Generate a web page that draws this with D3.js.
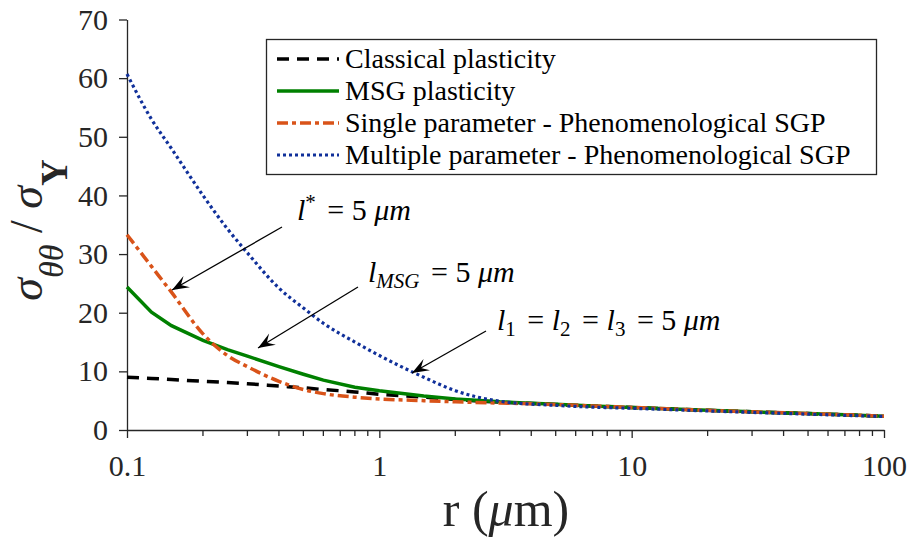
<!DOCTYPE html>
<html>
<head>
<meta charset="utf-8">
<script src="https://cdn.jsdelivr.net/npm/d3@7"></script>
<style>
  body { margin: 0; background: #fff; }
  svg { display: block; }
</style>
</head>
<body>
<div id="chart"></div>
<script>
//========================
//   Data
//========================
var rValues = [0.1, 0.125, 0.15, 0.2, 0.25, 0.3, 0.4, 0.5, 0.6, 0.8, 1, 1.5, 2, 3, 5, 7, 10, 20, 30, 50, 70, 100];

var classical = [9.0, 8.8, 8.6, 8.3, 8.1, 7.9, 7.5, 7.2, 6.9, 6.5, 6.1, 5.6, 5.2, 4.75, 4.35, 4.1, 3.85, 3.35, 3.1, 2.8, 2.6, 2.35];
var msg       = [24.4, 20.1, 17.8, 15.3, 13.7, 12.6, 10.8, 9.5, 8.5, 7.3, 6.7, 5.8, 5.3, 4.8, 4.4, 4.1, 3.85, 3.35, 3.1, 2.8, 2.6, 2.35];
var single    = [33.3, 27.9, 23.5, 16.4, 12.7, 10.8, 8.3, 6.9, 6.2, 5.6, 5.3, 5.0, 4.8, 4.6, 4.35, 4.1, 3.85, 3.35, 3.1, 2.8, 2.6, 2.35];
var multiple  = [60.7, 53.0, 48.0, 40.0, 34.3, 30.2, 24.2, 20.8, 18.2, 15.0, 12.7, 9.0, 6.7, 4.9, 4.2, 3.9, 3.7, 3.25, 3.0, 2.7, 2.5, 2.3];

var seriesNames = ["Classical plasticity", "MSG plasticity", "Single parameter - Phenomenological SGP", "Multiple parameter - Phenomenological SGP"];
var xTickValues = [0.1, 1, 10, 100];
var yTickValues = [0, 10, 20, 30, 40, 50, 60, 70];

//========================
//   Canvas and scales
//========================
var width = 910, height = 541;
var axisColor = "#262626";
var serif = "Liberation Serif";

var svg = d3.select("#chart").append("svg")
  .attr("width", width)
  .attr("height", height)
  .attr("font-family", serif);

var x = d3.scaleLog().domain([0.1, 100]).range([127, 884]);
var y = d3.scaleLinear().domain([0, 70]).range([430, 19.5]);

//Minor ticks for the log axis
var minorTicks = [];
[0.1, 1, 10].forEach(function(d) {
  for (var k = 2; k <= 9; k++) minorTicks.push(d * k);
});

//========================
//   Axes
//========================
var xAxis = svg.append("g")
  .attr("transform", "translate(0," + y(0) + ")")
  .call(d3.axisBottom(x).tickValues(xTickValues).tickFormat(d3.format("~g"))
    .tickSize(8).tickSizeOuter(0).tickPadding(17));

xAxis.selectAll(".minor").data(minorTicks).enter().append("line")
  .attr("class", "minor")
  .attr("x1", function(d) { return x(d); })
  .attr("x2", function(d) { return x(d); })
  .attr("y1", 0).attr("y2", 6)
  .attr("stroke", axisColor).attr("stroke-width", 1.3);

var yAxis = svg.append("g")
  .attr("transform", "translate(" + x(0.1) + ",0)")
  .call(d3.axisLeft(y).tickValues(yTickValues).tickSize(8).tickSizeOuter(0).tickPadding(11));

[xAxis, yAxis].forEach(function(g) {
  g.attr("font-family", serif).attr("font-size", 30);
  g.select(".domain").attr("stroke", axisColor).attr("stroke-width", 1.3);
  g.selectAll(".tick line").attr("stroke", axisColor).attr("stroke-width", 1.3);
  g.selectAll(".tick text").attr("fill", axisColor);
});

//Axis labels
var xLabel = svg.append("text")
  .attr("x", 506).attr("y", 526)
  .attr("text-anchor", "middle")
  .attr("fill", axisColor)
  .attr("font-size", 50);
xLabel.append("tspan").text("r (");
xLabel.append("tspan").attr("font-style", "italic").text("μ");
xLabel.append("tspan").text("m)");

var yLabel = svg.append("text")
  .attr("transform", "translate(42,230) rotate(-90)")
  .attr("text-anchor", "middle")
  .attr("fill", axisColor)
  .attr("font-size", 46);
yLabel.append("tspan").attr("font-style", "italic").text("σ");
yLabel.append("tspan").attr("dy", 21).attr("font-size", 34).attr("font-style", "italic").text("θθ");
yLabel.append("tspan").attr("dy", -21).text(" / ");
yLabel.append("tspan").attr("font-style", "italic").text("σ");
yLabel.append("tspan").attr("dy", 25).attr("font-size", 37).attr("font-weight", "bold").text("Y");

//========================
//   Lines
//========================
var series = [
  {name: seriesNames[0], values: classical, color: "#000000", dash: "12,8", width: 3.5, curve: d3.curveMonotoneX},
  {name: seriesNames[1], values: msg, color: "#008000", dash: null, width: 3.5, curve: d3.curveLinear},
  {name: seriesNames[2], values: single, color: "#D95319", dash: "11,4,4,4", width: 3.5, curve: d3.curveMonotoneX},
  {name: seriesNames[3], values: multiple, color: "#10309A", dash: "3,3", width: 3.2, curve: d3.curveMonotoneX}
];

series.forEach(function(s) {
  var line = d3.line()
    .curve(s.curve)
    .x(function(d) { return x(d[0]); })
    .y(function(d) { return y(d[1]); });
  svg.append("path")
    .datum(rValues.map(function(r, i) { return [r, s.values[i]]; }))
    .attr("d", line)
    .attr("fill", "none")
    .attr("stroke", s.color)
    .attr("stroke-width", s.width)
    .attr("stroke-dasharray", s.dash);
});

//========================
//   Legend
//========================
var legend = svg.append("g");
legend.append("rect")
  .attr("x", 266.5).attr("y", 39.5)
  .attr("width", 610).attr("height", 135)
  .attr("fill", "#fff").attr("stroke", axisColor).attr("stroke-width", 1.3);

series.forEach(function(s, i) {
  var ly = 59 + i * 32;
  legend.append("line")
    .attr("x1", 277).attr("x2", 339)
    .attr("y1", ly).attr("y2", ly)
    .attr("stroke", s.color).attr("stroke-width", s.width)
    .attr("stroke-dasharray", s.dash);
  legend.append("text")
    .attr("x", 345).attr("y", ly + 9)
    .attr("font-size", 28)
    .attr("fill", "#000")
    .text(s.name);
});

//========================
//   Annotations
//========================
function arrow(x0, y0, x1, y1) {
  svg.append("line")
    .attr("x1", x0).attr("y1", y0).attr("x2", x1).attr("y2", y1)
    .attr("stroke", "#000").attr("stroke-width", 1.3);
  var dx = x0 - x1, dy = y0 - y1, len = Math.sqrt(dx * dx + dy * dy);
  var ux = dx / len, uy = dy / len, nx = -uy, ny = ux;
  var L = 17, W = 6.5;
  var pts = [
    [x1, y1],
    [x1 + ux * L + nx * W, y1 + uy * L + ny * W],
    [x1 + ux * L * 0.6, y1 + uy * L * 0.6],
    [x1 + ux * L - nx * W, y1 + uy * L - ny * W]
  ];
  svg.append("path")
    .attr("d", "M" + pts.join("L") + "Z")
    .attr("fill", "#000");
}

arrow(282, 227, 172, 290);
arrow(358, 287, 258, 348);
arrow(486, 331, 412, 373);

function mathText(xp, yp) {
  return svg.append("text").attr("x", xp).attr("y", yp)
    .attr("font-size", 30).attr("fill", "#000");
}

//spaced "=" like TeX math
function equals(t, dy) {
  t.append("tspan").attr("dx", 4).attr("dy", dy || 0).text(" = ");
  t.append("tspan").attr("dx", 3).text("");
}

//l* = 5 um
var t1 = mathText(297, 220);
t1.append("tspan").attr("font-style", "italic").text("l");
t1.append("tspan").attr("dy", -11).attr("font-size", 21).text("*");
equals(t1, 11);
t1.append("tspan").text("5 ");
t1.append("tspan").attr("font-style", "italic").text("μm");

//l_MSG = 5 um
var t2 = mathText(368, 282);
t2.append("tspan").attr("font-style", "italic").text("l");
t2.append("tspan").attr("dy", 6).attr("font-size", 21).attr("font-style", "italic").text("MSG");
equals(t2, -6);
t2.append("tspan").text("5 ");
t2.append("tspan").attr("font-style", "italic").text("μm");

//l1 = l2 = l3 = 5 um
var t3 = mathText(497, 330);
["1", "2", "3"].forEach(function(k) {
  t3.append("tspan").attr("font-style", "italic").text("l");
  t3.append("tspan").attr("dy", 6).attr("font-size", 21).text(k);
  equals(t3, -6);
});
t3.append("tspan").text("5 ");
t3.append("tspan").attr("font-style", "italic").text("μm");
</script>
</body>
</html>
